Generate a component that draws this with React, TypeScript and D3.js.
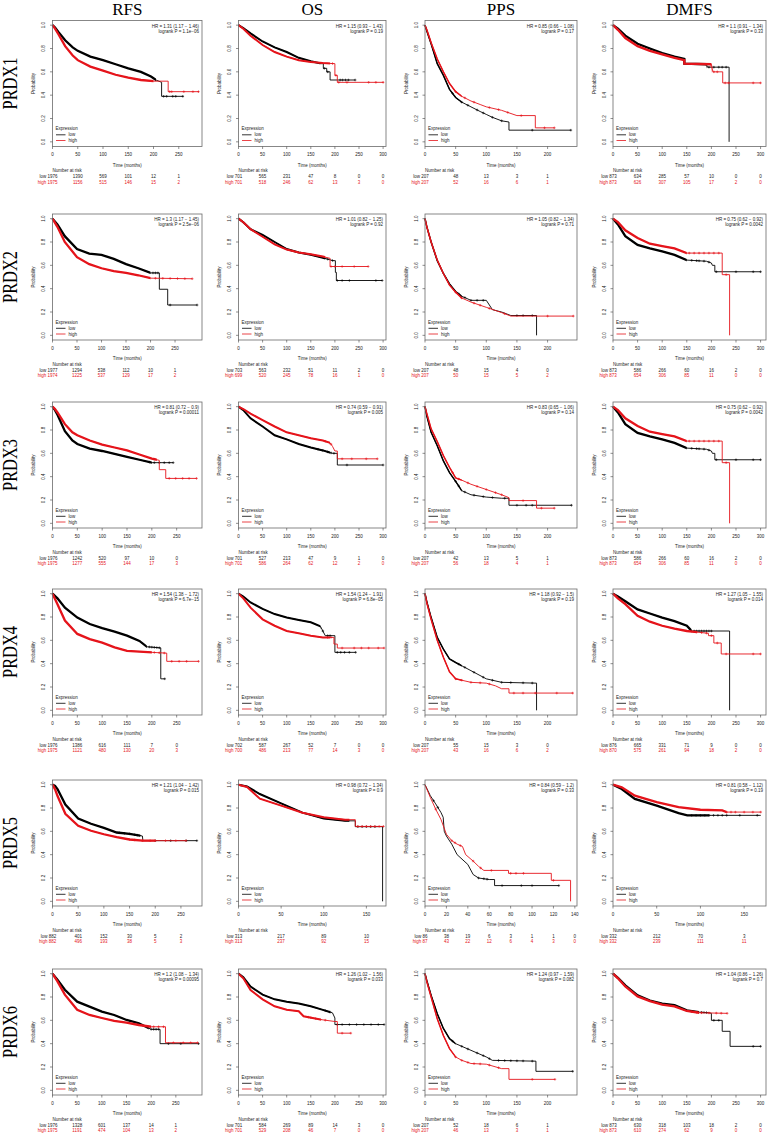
import React from "react";
import * as d3 from "d3";

type Pt = [number, number];

const rowNames = ["PRDX1", "PRDX2", "PRDX3", "PRDX4", "PRDX5", "PRDX6"];
const colNames = ["RFS", "OS", "PPS", "DMFS"];

const hrLines: string[][] = [
  ["HR = 1.31 (1.17 \u2212 1.46)", "HR = 1.15 (0.93 \u2212 1.43)", "HR = 0.85 (0.66 \u2212 1.08)", "HR = 1.1 (0.91 \u2212 1.34)"],
  ["HR = 1.3 (1.17 \u2212 1.45)", "HR = 1.01 (0.82 \u2212 1.25)", "HR = 1.05 (0.82 \u2212 1.34)", "HR = 0.75 (0.62 \u2212 0.92)"],
  ["HR = 0.81 (0.72 \u2212 0.9)", "HR = 0.74 (0.59 \u2212 0.91)", "HR = 0.83 (0.65 \u2212 1.06)", "HR = 0.75 (0.62 \u2212 0.92)"],
  ["HR = 1.54 (1.38 \u2212 1.72)", "HR = 1.54 (1.24 \u2212 1.91)", "HR = 1.18 (0.92 \u2212 1.5)", "HR = 1.27 (1.05 \u2212 1.55)"],
  ["HR = 1.21 (1.04 \u2212 1.42)", "HR = 0.98 (0.72 \u2212 1.34)", "HR = 0.84 (0.59 \u2212 1.2)", "HR = 0.81 (0.58 \u2212 1.12)"],
  ["HR = 1.2 (1.08 \u2212 1.34)", "HR = 1.26 (1.02 \u2212 1.56)", "HR = 1.24 (0.97 \u2212 1.59)", "HR = 1.04 (0.86 \u2212 1.26)"],
];
const pLines: string[][] = [
  ["logrank P = 1.1e\u221206", "logrank P = 0.19", "logrank P = 0.17", "logrank P = 0.33"],
  ["logrank P = 2.5e\u221206", "logrank P = 0.92", "logrank P = 0.71", "logrank P = 0.0042"],
  ["logrank P = 0.00011", "logrank P = 0.005", "logrank P = 0.14", "logrank P = 0.0042"],
  ["logrank P = 6.7e\u221215", "logrank P = 6.8e\u221205", "logrank P = 0.19", "logrank P = 0.014"],
  ["logrank P = 0.015", "logrank P = 0.9", "logrank P = 0.33", "logrank P = 0.19"],
  ["logrank P = 0.00095", "logrank P = 0.033", "logrank P = 0.082", "logrank P = 0.7"],
];

const xMaxes: number[][] = [
  [296, 306, 248, 311],
  [305, 306, 248, 311],
  [301, 306, 248, 311],
  [301, 306, 248, 311],
  [291, 173, 142, 175],
  [303, 306, 248, 311],
];

const ticks250 = [0, 50, 100, 150, 200, 250];
const ticks300 = [0, 50, 100, 150, 200, 250, 300];
const ticks200 = [0, 50, 100, 150, 200];
const ticks150 = [0, 50, 100, 150];
const ticks140 = [0, 20, 40, 60, 80, 100, 120, 140];
const xTickSets: number[][][] = [
  [ticks250, ticks300, ticks200, ticks300],
  [ticks250, ticks300, ticks200, ticks300],
  [ticks250, ticks300, ticks200, ticks300],
  [ticks250, ticks300, ticks200, ticks300],
  [ticks250, ticks150, ticks140, ticks150],
  [ticks250, ticks300, ticks200, ticks300],
];

const riskLow: number[][][] = [
  [[1976, 1390, 569, 101, 12, 1], [701, 565, 231, 47, 8, 0, 0], [207, 48, 13, 3, 1], [873, 634, 285, 57, 10, 0, 0]],
  [[1977, 1294, 538, 112, 10, 1], [703, 563, 232, 51, 11, 2, 0], [207, 48, 15, 4, 0], [873, 586, 266, 60, 16, 2, 0]],
  [[1976, 1242, 520, 97, 10, 0], [701, 527, 213, 47, 9, 1, 0], [207, 42, 13, 5, 1], [873, 586, 266, 60, 16, 2, 0]],
  [[1976, 1386, 616, 111, 7, 0], [702, 587, 267, 52, 7, 0, 0], [207, 55, 15, 3, 0], [876, 665, 331, 71, 9, 0, 0]],
  [[882, 401, 152, 30, 5, 2], [313, 217, 89, 10], [86, 38, 19, 6, 3, 1, 1, 0], [332, 212, 70, 3]],
  [[1976, 1328, 601, 137, 14, 1], [701, 584, 269, 89, 14, 3, 0], [207, 52, 18, 6, 1], [873, 630, 318, 103, 18, 2, 0]],
];
const riskHigh: number[][][] = [
  [[1975, 1156, 515, 146, 15, 2], [701, 518, 246, 62, 13, 3, 0], [207, 52, 16, 6, 1], [873, 626, 307, 105, 17, 2, 0]],
  [[1974, 1225, 537, 129, 17, 2], [699, 520, 245, 78, 16, 1, 0], [207, 50, 15, 5, 2], [873, 654, 306, 85, 11, 0, 0]],
  [[1975, 1277, 555, 144, 17, 3], [701, 586, 264, 62, 12, 2, 0], [207, 56, 18, 4, 1], [873, 654, 306, 85, 11, 0, 0]],
  [[1975, 1121, 480, 130, 20, 3], [700, 486, 213, 77, 14, 3, 0], [207, 43, 16, 6, 2], [870, 575, 261, 94, 18, 2, 0]],
  [[882, 496, 193, 38, 5, 3], [313, 237, 92, 15], [87, 43, 22, 12, 6, 4, 3, 0], [332, 239, 111, 11]],
  [[1975, 1191, 474, 104, 13, 2], [701, 529, 208, 46, 7, 0, 0], [207, 46, 13, 3, 1], [873, 610, 274, 62, 9, 0, 0]],
];

// Kaplan-Meier curves: [months, survival]
const dmfsLow23: Pt[] = [[0, 1], [10, 0.95], [25, 0.85], [50, 0.775], [75, 0.745], [100, 0.72], [125, 0.69], [150, 0.645], [190, 0.635], [200, 0.62], [202, 0.6], [207, 0.6], [207, 0.545], [300, 0.545]];
const dmfsHigh23: Pt[] = [[0, 1], [10, 0.97], [25, 0.9], [50, 0.835], [75, 0.785], [100, 0.765], [125, 0.745], [150, 0.705], [222, 0.705], [222, 0.52], [237, 0.52], [237, 0]];

const lowCurves: Pt[][][] = [
  [
    [[0, 1], [5, 0.98], [12, 0.94], [25, 0.87], [40, 0.81], [50, 0.78], [75, 0.73], [100, 0.7], [125, 0.665], [150, 0.63], [175, 0.6], [195, 0.56], [205, 0.53], [216, 0.51], [216, 0.39], [259, 0.39]],
    [[0, 1], [10, 0.975], [25, 0.93], [50, 0.86], [75, 0.81], [100, 0.77], [125, 0.72], [150, 0.69], [172, 0.67], [176, 0.67], [176, 0.63], [183, 0.63], [183, 0.6], [190, 0.6], [190, 0.53], [242, 0.53]],
    [[0, 1], [3, 0.95], [10, 0.84], [20, 0.67], [30, 0.57], [40, 0.45], [50, 0.38], [60, 0.34], [75, 0.3], [90, 0.26], [100, 0.235], [110, 0.21], [125, 0.18], [137, 0.17], [137, 0.1], [238, 0.1]],
    [[0, 1], [10, 0.97], [25, 0.91], [50, 0.84], [75, 0.8], [100, 0.76], [125, 0.73], [145, 0.71], [145, 0.67], [190, 0.665], [192, 0.64], [236, 0.64], [236, 0]],
  ],
  [
    [[0, 1], [10, 0.95], [25, 0.85], [50, 0.74], [75, 0.7], [100, 0.69], [125, 0.655], [150, 0.61], [175, 0.575], [200, 0.535], [218, 0.535], [218, 0.395], [235, 0.395], [235, 0.26], [295, 0.26]],
    [[0, 1], [10, 0.97], [25, 0.91], [50, 0.86], [75, 0.8], [100, 0.74], [125, 0.71], [150, 0.69], [175, 0.665], [196, 0.64], [201, 0.64], [201, 0.54], [203, 0.54], [203, 0.47], [298, 0.47]],
    [[0, 1], [3, 0.93], [10, 0.8], [20, 0.64], [30, 0.53], [40, 0.44], [50, 0.375], [60, 0.335], [75, 0.3], [100, 0.3], [110, 0.22], [125, 0.2], [140, 0.17], [182, 0.17], [182, 0]],
    dmfsLow23,
  ],
  [
    [[0, 1], [5, 0.97], [10, 0.93], [25, 0.79], [40, 0.71], [50, 0.68], [75, 0.64], [100, 0.62], [125, 0.595], [150, 0.57], [175, 0.545], [200, 0.52], [243, 0.52]],
    [[0, 1], [10, 0.97], [25, 0.9], [50, 0.83], [75, 0.755], [100, 0.72], [125, 0.68], [150, 0.65], [175, 0.625], [195, 0.6], [205, 0.6], [205, 0.5], [300, 0.5]],
    [[0, 1], [3, 0.92], [10, 0.78], [20, 0.665], [30, 0.535], [40, 0.435], [50, 0.36], [60, 0.28], [75, 0.245], [100, 0.225], [125, 0.215], [137, 0.215], [137, 0.155], [239, 0.155]],
    dmfsLow23,
  ],
  [
    [[0, 1], [10, 0.96], [25, 0.88], [50, 0.795], [75, 0.74], [100, 0.705], [125, 0.675], [150, 0.64], [175, 0.595], [190, 0.545], [218, 0.535], [218, 0.27], [226, 0.27]],
    [[0, 1], [10, 0.975], [25, 0.925], [50, 0.87], [75, 0.825], [100, 0.795], [125, 0.775], [150, 0.755], [170, 0.72], [180, 0.64], [200, 0.64], [200, 0.497], [243, 0.497]],
    [[0, 1], [3, 0.93], [10, 0.795], [20, 0.625], [30, 0.525], [40, 0.44], [50, 0.41], [75, 0.34], [100, 0.27], [125, 0.24], [182, 0.233], [182, 0]],
    [[0, 1], [10, 0.975], [25, 0.935], [50, 0.865], [75, 0.83], [100, 0.795], [125, 0.765], [150, 0.725], [160, 0.68], [237, 0.68], [237, 0]],
  ],
  [
    [[0, 1], [5, 0.99], [10, 0.96], [25, 0.83], [50, 0.71], [75, 0.665], [100, 0.63], [125, 0.59], [150, 0.578], [175, 0.56], [176, 0.52], [281, 0.52]],
    [[0, 1], [10, 0.985], [25, 0.92], [50, 0.84], [75, 0.76], [100, 0.71], [125, 0.69], [137, 0.69], [137, 0.64], [169, 0.64], [169, 0]],
    [[0, 1], [5, 0.905], [10, 0.835], [15, 0.76], [17, 0.72], [18, 0.6], [20, 0.56], [25, 0.49], [30, 0.4], [40, 0.316], [45, 0.23], [50, 0.2], [60, 0.187], [65, 0.187], [65, 0.135], [125, 0.135]],
    [[0, 1], [10, 0.963], [25, 0.878], [50, 0.82], [75, 0.756], [85, 0.737], [169, 0.737]],
  ],
  [
    [[0, 1], [10, 0.948], [25, 0.862], [50, 0.76], [75, 0.718], [100, 0.675], [125, 0.646], [150, 0.603], [175, 0.575], [200, 0.523], [218, 0.523], [218, 0.4], [296, 0.4]],
    [[0, 1], [10, 0.97], [25, 0.89], [50, 0.82], [75, 0.78], [100, 0.76], [125, 0.744], [150, 0.72], [175, 0.69], [195, 0.664], [200, 0.62], [200, 0.564], [302, 0.564]],
    [[0, 1], [3, 0.94], [10, 0.814], [20, 0.657], [30, 0.53], [40, 0.443], [50, 0.4], [75, 0.343], [100, 0.286], [110, 0.257], [181, 0.25], [181, 0.163], [241, 0.163]],
    [[0, 1], [10, 0.965], [25, 0.9], [50, 0.814], [75, 0.77], [100, 0.743], [125, 0.73], [150, 0.686], [175, 0.67], [195, 0.665], [200, 0.66], [200, 0.6], [222, 0.6], [222, 0.506], [238, 0.506], [238, 0.377], [300, 0.377]],
  ],
];

const highCurves: Pt[][][] = [
  [
    [[0, 1], [5, 0.97], [12, 0.92], [25, 0.82], [40, 0.74], [50, 0.7], [75, 0.645], [100, 0.61], [125, 0.575], [150, 0.55], [175, 0.53], [200, 0.52], [229, 0.52], [229, 0.43], [290, 0.43]],
    [[0, 1], [10, 0.97], [25, 0.91], [50, 0.83], [75, 0.77], [100, 0.73], [125, 0.7], [150, 0.685], [175, 0.675], [200, 0.67], [200, 0.57], [205, 0.57], [205, 0.51], [301, 0.51]],
    [[0, 1], [3, 0.96], [10, 0.85], [20, 0.71], [30, 0.6], [40, 0.5], [50, 0.43], [60, 0.39], [75, 0.35], [90, 0.32], [100, 0.3], [125, 0.27], [150, 0.225], [180, 0.225], [180, 0.12], [211, 0.12]],
    [[0, 1], [10, 0.96], [25, 0.89], [50, 0.82], [75, 0.78], [100, 0.75], [125, 0.72], [145, 0.7], [145, 0.67], [200, 0.665], [203, 0.6], [223, 0.6], [223, 0.505], [300, 0.505]],
  ],
  [
    [[0, 1], [10, 0.93], [25, 0.8], [50, 0.67], [75, 0.61], [100, 0.575], [125, 0.55], [150, 0.535], [175, 0.515], [200, 0.49], [285, 0.485]],
    [[0, 1], [10, 0.97], [25, 0.91], [50, 0.845], [75, 0.78], [100, 0.735], [125, 0.71], [150, 0.695], [175, 0.675], [190, 0.66], [190, 0.59], [269, 0.59]],
    [[0, 1], [3, 0.93], [10, 0.8], [20, 0.645], [30, 0.53], [40, 0.43], [50, 0.37], [60, 0.32], [75, 0.285], [100, 0.24], [125, 0.195], [140, 0.165], [242, 0.165]],
    dmfsHigh23,
  ],
  [
    [[0, 1], [5, 0.98], [10, 0.95], [25, 0.85], [40, 0.78], [50, 0.755], [75, 0.71], [100, 0.675], [125, 0.65], [150, 0.625], [175, 0.59], [200, 0.555], [215, 0.54], [215, 0.46], [228, 0.46], [228, 0.385], [290, 0.385]],
    [[0, 1], [10, 0.98], [25, 0.94], [50, 0.885], [75, 0.83], [100, 0.78], [125, 0.755], [150, 0.73], [175, 0.71], [190, 0.69], [195, 0.66], [200, 0.62], [205, 0.62], [205, 0.553], [288, 0.553]],
    [[0, 1], [3, 0.94], [10, 0.81], [20, 0.7], [30, 0.58], [40, 0.48], [50, 0.39], [60, 0.37], [75, 0.335], [100, 0.29], [125, 0.245], [137, 0.22], [137, 0.195], [182, 0.195], [182, 0.13], [211, 0.13]],
    dmfsHigh23,
  ],
  [
    [[0, 1], [10, 0.91], [25, 0.77], [50, 0.655], [75, 0.61], [100, 0.58], [125, 0.54], [150, 0.51], [175, 0.503], [230, 0.49], [230, 0.42], [294, 0.42]],
    [[0, 1], [10, 0.96], [25, 0.88], [50, 0.78], [75, 0.725], [100, 0.68], [125, 0.66], [150, 0.64], [175, 0.625], [198, 0.625], [198, 0.568], [205, 0.568], [205, 0.534], [302, 0.534]],
    [[0, 1], [3, 0.92], [10, 0.78], [20, 0.6], [30, 0.455], [40, 0.33], [50, 0.27], [75, 0.24], [100, 0.233], [115, 0.21], [125, 0.185], [137, 0.185], [137, 0.148], [241, 0.148]],
    [[0, 1], [10, 0.96], [25, 0.91], [50, 0.81], [75, 0.76], [100, 0.725], [125, 0.7], [150, 0.68], [194, 0.66], [194, 0.64], [205, 0.64], [205, 0.577], [220, 0.577], [220, 0.483], [300, 0.483]],
  ],
  [
    [[0, 1], [5, 0.96], [10, 0.9], [25, 0.75], [50, 0.648], [75, 0.605], [100, 0.575], [125, 0.55], [150, 0.53], [175, 0.52], [260, 0.52]],
    [[0, 1], [10, 0.98], [25, 0.88], [50, 0.82], [75, 0.76], [100, 0.72], [125, 0.7], [137, 0.7], [137, 0.642], [170, 0.642]],
    [[0, 1], [5, 0.89], [10, 0.79], [15, 0.7], [20, 0.575], [25, 0.52], [30, 0.49], [35, 0.47], [38, 0.4], [45, 0.345], [50, 0.3], [55, 0.265], [78, 0.265], [78, 0.24], [118, 0.24], [118, 0.18], [136, 0.18], [136, 0]],
    [[0, 1], [10, 0.977], [25, 0.906], [50, 0.85], [75, 0.807], [100, 0.785], [125, 0.78], [130, 0.765], [169, 0.765]],
  ],
  [
    [[0, 1], [10, 0.934], [25, 0.82], [50, 0.69], [75, 0.646], [100, 0.62], [125, 0.595], [150, 0.58], [175, 0.56], [200, 0.545], [229, 0.545], [229, 0.408], [294, 0.408]],
    [[0, 1], [10, 0.96], [25, 0.86], [50, 0.78], [75, 0.72], [100, 0.69], [125, 0.678], [135, 0.635], [170, 0.607], [200, 0.59], [205, 0.59], [205, 0.49], [233, 0.49]],
    [[0, 1], [3, 0.93], [10, 0.8], [20, 0.614], [30, 0.47], [40, 0.357], [50, 0.286], [60, 0.257], [75, 0.23], [100, 0.224], [125, 0.186], [137, 0.186], [137, 0.094], [212, 0.094]],
    [[0, 1], [10, 0.96], [25, 0.89], [50, 0.805], [75, 0.765], [100, 0.735], [125, 0.72], [150, 0.68], [175, 0.665], [232, 0.66]],
  ],
];

// censoring marks (months) visible on the sparse parts of each curve
const lowCens: number[][][] = [
  [[220, 226, 238, 244, 258], [178, 185, 211, 216, 222, 228, 242], [45, 60, 70, 85, 95, 110, 125, 175, 238], [195, 205, 215, 222, 230]],
  [[205, 210, 215, 240, 295], [185, 195, 205, 215, 230, 285, 298], [55, 65, 75, 85, 95, 150, 160, 175], [160, 170, 175, 185, 195, 210, 250, 285, 300]],
  [[195, 205, 215, 225, 235, 243], [165, 175, 185, 192, 198, 225, 300], [50, 55, 65, 80, 95, 110, 130, 150, 165, 175, 239], [160, 170, 175, 185, 195, 210, 250, 285, 300]],
  [[195, 200, 205, 210, 215, 226], [175, 185, 190, 205, 212, 220, 230, 243], [55, 65, 80, 95, 110, 125, 140, 160, 175], [165, 170, 175, 180, 185, 190, 195, 200]],
  [[130, 140, 150, 160, 165, 170, 200, 230, 260, 281], [140, 145, 150, 155, 160], [8, 12, 50, 55, 58, 72, 90, 100, 125], [90, 95, 100, 105, 110, 115, 120, 125, 130, 145, 165]],
  [[200, 205, 210, 215, 235, 260, 296], [180, 190, 205, 215, 230, 245, 260, 275, 290, 302], [45, 60, 70, 85, 95, 105, 120, 130, 140, 150, 160, 175, 241], [180, 185, 190, 205, 215, 285, 300]],
];
const highCens: number[][][] = [
  [[232, 236, 260, 278, 289], [195, 202, 208, 225, 270, 285, 300], [50, 65, 80, 105, 120, 135, 157, 195, 211], [205, 212, 228, 235, 285, 300]],
  [[210, 225, 240, 255, 270, 285], [192, 200, 215, 240, 269], [50, 60, 80, 90, 105, 130, 200, 242], [155, 165, 175, 185, 195, 205, 215, 230]],
  [[205, 235, 248, 262, 275, 290], [180, 192, 215, 235, 265, 288], [45, 55, 70, 85, 100, 115, 125, 160, 190, 211], [155, 165, 175, 185, 195, 205, 215, 230]],
  [[205, 215, 225, 240, 255, 270, 294], [185, 192, 215, 240, 255, 270, 290, 302], [50, 60, 75, 90, 105, 145, 160, 180, 215, 241], [170, 180, 190, 200, 212, 230, 285, 300]],
  [[150, 160, 175, 190, 200, 220, 240, 260], [140, 145, 150, 155, 160, 165, 170], [10, 25, 28, 33, 45, 52, 62, 80, 85, 92, 120], [130, 135, 140, 150, 160, 169]],
  [[205, 215, 225, 245, 265, 280, 294], [145, 150, 160, 170, 180, 215, 233], [50, 60, 70, 80, 90, 105, 120, 175, 212], [160, 170, 180, 195, 210, 220, 232]],
];

// time up to which censoring is so dense that the curve looks heavy
const lowDense: number[][] = [
  [205, 170, 60, 190], [200, 180, 60, 150], [200, 190, 60, 150], [190, 170, 60, 160], [170, 130, 0, 110], [195, 190, 50, 175],
];
const highDense: number[][] = [
  [200, 190, 60, 200], [200, 180, 60, 150], [210, 190, 60, 150], [200, 190, 60, 170], [200, 130, 0, 130], [200, 170, 50, 175],
];

const colLeft = [52.5, 238.5, 425, 613];
const colRight = [202, 386, 577, 766];
const rowTop = [20.5, 214, 402, 589, 780, 969];
const BOX_H = 126;
const RED = "#e5141b";
const SANS = "'Liberation Sans', Arial, Helvetica, sans-serif";
const SERIF = "'Liberation Serif', 'Times New Roman', serif";
const FS = 4.5;
const denseWidth = [2.3, 2.0, 1.5, 2.3];

function valueAt(curve: Pt[], t: number): number {
  for (let i = 0; i < curve.length - 1; i++) {
    const [t0, s0] = curve[i];
    const [t1, s1] = curve[i + 1];
    if (t1 === t0) continue;
    if (t >= t0 && t <= t1) return s0 + ((s1 - s0) * (t - t0)) / (t1 - t0);
  }
  return curve[curve.length - 1][1];
}

function Panel({ r, c }: { r: number; c: number }) {
  const L = colLeft[c];
  const R = colRight[c];
  const T = rowTop[r];
  const B = T + BOX_H;
  const x = d3.scaleLinear().domain([0, xMaxes[r][c]]).range([L, R]);
  const y = d3.scaleLinear().domain([-0.04, 1.04]).range([B, T]);
  const line = d3
    .line<Pt>()
    .x((d) => x(d[0]))
    .y((d) => y(d[1]));
  const yTicks = [0, 0.2, 0.4, 0.6, 0.8, 1.0];
  const xt = xTickSets[r][c];
  const series = [
    { key: "low", curve: lowCurves[r][c], cens: lowCens[r][c], dense: lowDense[r][c], color: "#000" },
    { key: "high", curve: highCurves[r][c], cens: highCens[r][c], dense: highDense[r][c], color: RED },
  ];
  const x0 = x(0);
  const lowFirst = String(riskLow[r][c][0]);
  const highFirst = String(riskHigh[r][c][0]);
  return (
    <g>
      <defs>
        {series.map((s) => (
          <clipPath key={s.key} id={`clip-${r}-${c}-${s.key}`}>
            <rect x={L - 1} y={T - 2} width={Math.max(0, x(s.dense) - L + 1)} height={BOX_H + 4} />
          </clipPath>
        ))}
      </defs>
      {/* curves */}
      {series.map((s) => (
        <g key={s.key}>
          <path d={line(s.curve) || ""} fill="none" stroke={s.color} strokeWidth={0.9} />
          {s.dense > 0 && (
            <path
              d={line(s.curve) || ""}
              fill="none"
              stroke={s.color}
              strokeWidth={denseWidth[c]}
              clipPath={`url(#clip-${r}-${c}-${s.key})`}
            />
          )}
          {s.cens.map((t, i) => {
            const cx = x(t);
            const cy = y(valueAt(s.curve, t));
            return (
              <path
                key={i}
                d={`M${cx - 1.3},${cy}H${cx + 1.3}M${cx},${cy - 1.3}V${cy + 1.3}`}
                stroke={s.color}
                strokeWidth={0.6}
              />
            );
          })}
        </g>
      ))}
      {/* box */}
      <rect x={L} y={T} width={R - L} height={BOX_H} fill="none" stroke="#6a6a6a" strokeWidth={0.8} />
      {/* y axis */}
      {yTicks.map((v) => (
        <g key={v}>
          <line x1={L} x2={L - 2.5} y1={y(v)} y2={y(v)} stroke="#444" strokeWidth={0.6} />
          <text
            transform={`translate(${L - 7.5},${y(v)}) rotate(-90)`}
            textAnchor="middle"
            fontSize={FS}
            fontFamily={SANS}
            fill="#222"
          >
            {v.toFixed(1)}
          </text>
        </g>
      ))}
      <text
        transform={`translate(${L - 17.5},${(T + B) / 2}) rotate(-90)`}
        textAnchor="middle"
        fontSize={FS}
        fontFamily={SANS}
        fill="#222"
      >
        Probability
      </text>
      {/* x axis */}
      {xt.map((v) => (
        <g key={v}>
          <line x1={x(v)} x2={x(v)} y1={B} y2={B + 2.5} stroke="#444" strokeWidth={0.6} />
          <text x={x(v)} y={B + 9.5} textAnchor="middle" fontSize={FS} fontFamily={SANS} fill="#222">
            {v}
          </text>
        </g>
      ))}
      <text x={(L + R) / 2} y={B + 20} textAnchor="middle" fontSize={FS} fontFamily={SANS} fill="#222">
        Time (months)
      </text>
      {/* HR text */}
      <text x={R - 3} y={T + 7} textAnchor="end" fontSize={FS} fontFamily={SANS} fill="#222">
        {hrLines[r][c]}
      </text>
      <text x={R - 3} y={T + 12} textAnchor="end" fontSize={FS} fontFamily={SANS} fill="#222">
        {pLines[r][c]}
      </text>
      {/* legend */}
      <text x={L + 3} y={B - 16.5} fontSize={FS} fontFamily={SANS} fill="#222">
        Expression
      </text>
      <line x1={L + 3.5} x2={L + 13} y1={B - 11.7} y2={B - 11.7} stroke="#000" strokeWidth={0.8} />
      <text x={L + 16} y={B - 10.1} fontSize={FS} fontFamily={SANS} fill="#222">
        low
      </text>
      <line x1={L + 3.5} x2={L + 13} y1={B - 6} y2={B - 6} stroke={RED} strokeWidth={0.8} />
      <text x={L + 16} y={B - 4.4} fontSize={FS} fontFamily={SANS} fill="#222">
        high
      </text>
      {/* risk table */}
      <text x={x0} y={B + 25.8} fontSize={FS} fontFamily={SANS} fill="#222">
        Number at risk
      </text>
      <text x={x0 - lowFirst.length * 1.25 - 1.2} y={B + 31.6} textAnchor="end" fontSize={FS} fontFamily={SANS} fill="#222">
        low
      </text>
      <text x={x0 - highFirst.length * 1.25 - 1.2} y={B + 37} textAnchor="end" fontSize={FS} fontFamily={SANS} fill={RED}>
        high
      </text>
      {riskLow[r][c].map((n, i) => (
        <text key={"l" + i} x={x(xt[i])} y={B + 31.6} textAnchor="middle" fontSize={FS} fontFamily={SANS} fill="#222">
          {n}
        </text>
      ))}
      {riskHigh[r][c].map((n, i) => (
        <text key={"h" + i} x={x(xt[i])} y={B + 37} textAnchor="middle" fontSize={FS} fontFamily={SANS} fill={RED}>
          {n}
        </text>
      ))}
    </g>
  );
}

export default function App() {
  return (
    <svg
      width={771}
      height={1138}
      viewBox="0 0 771 1138"
      style={{ position: "absolute", left: 0, top: 0, background: "#fff" }}
    >
      <rect x={0} y={0} width={771} height={1138} fill="#fff" />
      {colNames.map((name, c) => (
        <text
          key={name}
          x={(colLeft[c] + colRight[c]) / 2}
          y={15}
          textAnchor="middle"
          fontSize={17}
          fontFamily={SERIF}
          fill="#000"
        >
          {name}
        </text>
      ))}
      {rowNames.map((name, r) => (
        <text
          key={name}
          transform={`translate(16.5,${rowTop[r] + BOX_H / 2}) rotate(-90)`}
          textAnchor="middle"
          fontSize={20}
          textLength={52}
          lengthAdjust="spacingAndGlyphs"
          fontFamily={SERIF}
          fill="#000"
        >
          {name}
        </text>
      ))}
      {rowNames.map((_, r) => colNames.map((__, c) => <Panel key={`${r}-${c}`} r={r} c={c} />))}
    </svg>
  );
}
